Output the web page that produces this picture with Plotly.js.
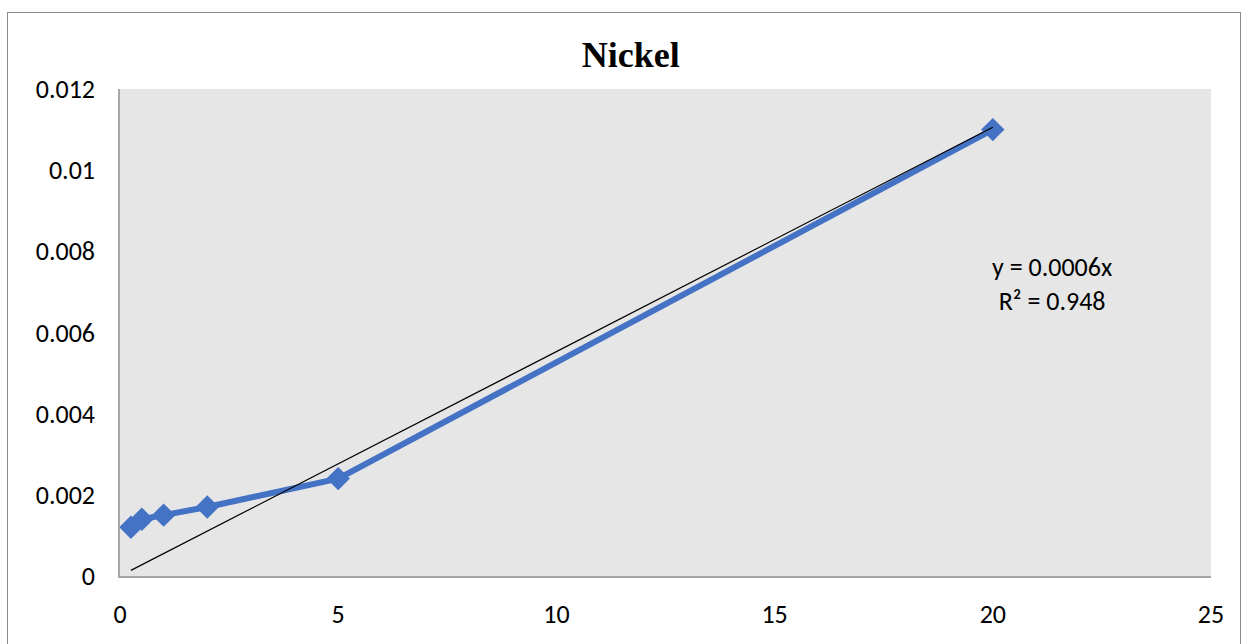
<!DOCTYPE html>
<html>
<head>
<meta charset="utf-8">
<script src="https://cdn.plot.ly/plotly-3.0.1.min.js"></script>
<style>
html,body{margin:0;padding:0;background:#fff;}
#wrap{position:relative;width:1244px;height:644px;}
#chart{width:1244px;height:644px;}
#frame{position:absolute;left:7px;top:12px;width:1232px;height:640px;border:1px solid #8c8c8c;pointer-events:none;}
</style>
</head>
<body>
<div id="wrap"><div id="chart"></div><div id="frame"></div></div>
<script>
const xValues = [0.25, 0.5, 1, 2, 5, 20];
const yValues = [0.0012, 0.0014, 0.0015, 0.0017, 0.0024, 0.011];
const xTicks = [0, 5, 10, 15, 20, 25];
const yTicks = [0, 0.002, 0.004, 0.006, 0.008, 0.01, 0.012];
const yTickLabels = ['0', '0.002', '0.004', '0.006', '0.008', '0.01', '0.012'];
const chartTitle = 'Nickel';
const equationText = 'y = 0.0006x<br>R² = 0.948';

// linear trendline through origin (least squares)
let sxy = 0, sxx = 0;
for (let i = 0; i < xValues.length; i++) { sxy += xValues[i]*yValues[i]; sxx += xValues[i]*xValues[i]; }
const slope = sxy / sxx;
const trendX = [xValues[0], xValues[xValues.length-1]];
const trendY = trendX.map(v => v*slope);

const tickFont = {family: 'Carlito, Calibri, "Open Sans", "Liberation Sans", sans-serif', size: 26, color: '#000'};

const data = [
  {x: xValues, y: yValues, type: 'scatter', mode: 'lines+markers',
   line: {color: '#4472C4', width: 6},
   marker: {symbol: 'diamond', size: 18, color: '#4472C4'},
   hoverinfo: 'x+y'},
  {x: trendX, y: trendY, type: 'scatter', mode: 'lines',
   line: {color: '#000', width: 1.2}, hoverinfo: 'skip'}
];

const layout = {
  width: 1244, height: 644,
  margin: {l: 120, r: 33, t: 89, b: 68},
  paper_bgcolor: '#ffffff',
  plot_bgcolor: '#e6e6e6',
  showlegend: false,
  title: {text: '<b>' + chartTitle + '</b>', x: 0.507, xanchor: 'center', y: 0.915, yanchor: 'middle',
          font: {family: '"Liberation Serif", "Times New Roman", serif', size: 36, color: '#000'}},
  xaxis: {range: [0, 25], tickvals: xTicks, ticktext: xTicks.map(String),
          showgrid: false, zeroline: false, showline: true, linecolor: '#a6a6a6', linewidth: 1.5,
          ticks: '', ticklabelstandoff: 14, tickfont: tickFont, fixedrange: true},
  yaxis: {range: [0, 0.012], tickvals: yTicks, ticktext: yTickLabels,
          showgrid: false, zeroline: false, showline: true, linecolor: '#a6a6a6', linewidth: 1.5,
          ticks: '', ticklabelstandoff: 18, tickfont: tickFont, fixedrange: true},
  annotations: [{text: equationText, xref: 'paper', yref: 'paper', x: 0.854, y: 0.60,
                 xanchor: 'center', yanchor: 'middle', showarrow: false, align: 'center',
                 font: tickFont}]
};

Plotly.newPlot('chart', data, layout, {displayModeBar: false, staticPlot: false});
</script>
</body>
</html>
